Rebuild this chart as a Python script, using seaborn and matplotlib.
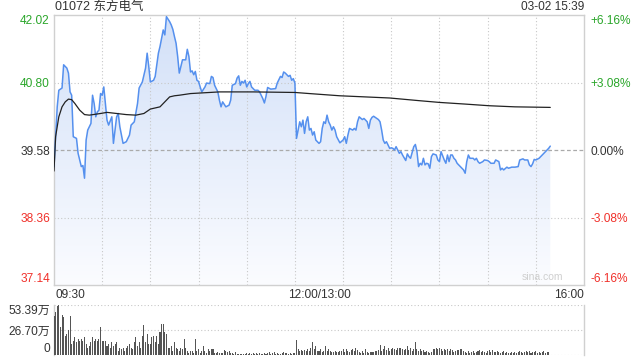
import numpy as np
import pandas as pd
import matplotlib
matplotlib.use("Agg")
import matplotlib.pyplot as plt
from matplotlib.colors import LinearSegmentedColormap
import seaborn as sns

# ---------------- data ----------------
title = "01072 东方电气"
stamp = "03-02 15:39"
prev_close = 39.58
price_ticks = [37.14, 38.36, 39.58, 40.80, 42.02]
price_labels = ["37.14", "38.36", "39.58", "40.80", "42.02"]
pct_labels = ["-6.16%", "-3.08%", "0.00%", "+3.08%", "+6.16%"]
time_labels = ["09:30", "12:00/13:00", "16:00"]
vol_ticks = [0, 26.70, 53.39]
vol_labels = ["0", "26.70万", "53.39万"]

# trading minute index (0 = 09:30, 150 = 12:00/13:00, 330 = 16:00)
price_min = [0, 2, 3, 5, 6, 8, 9, 10, 11, 12, 14, 15, 17, 18, 19, 20, 21, 22, 23, 24,
             25, 26, 27, 28, 29, 30, 31, 32, 33, 34, 36, 37, 39, 40, 41, 43, 45, 47, 48, 50,
             52, 53, 55, 57, 58, 59, 60, 62, 63, 65, 66, 68, 69, 70, 72, 73, 74, 75, 76, 77,
             78, 80, 82, 83, 84, 85, 86, 87, 88, 89, 90, 91, 92, 94, 95, 97, 98, 99, 100, 102,
             103, 104, 105, 107, 109, 110, 111, 113, 114, 115, 116, 117, 118, 119, 120, 121, 122, 123, 125, 127,
             128, 130, 131, 132, 133, 135, 138, 139, 141, 142, 143, 144, 146, 147, 148, 149, 150,
             151, 152, 153, 154, 155, 156, 157, 158, 159, 160, 161, 162, 163, 165, 166, 167, 168, 169, 170,
             171, 172, 173, 174, 175, 176, 178, 180, 181, 182, 183, 184, 186, 187, 188, 189, 190, 192, 193,
             195, 196, 197, 198, 199, 201, 202, 203, 204, 205, 206, 207, 208, 209, 210, 211, 212, 213, 214,
             215, 216, 217, 219, 220, 221, 222, 224, 225, 226, 227, 228, 229, 230, 231, 232, 233, 234, 235,
             236, 238, 239, 240, 241, 243, 244, 245, 246, 247, 248, 249, 250, 251, 253, 254, 255, 256, 257,
             258, 259, 261, 262, 263, 264, 265, 267, 268, 270, 271, 272, 274, 275, 277, 278, 279, 280, 282,
             283, 285, 287, 289, 290, 292, 293, 295, 296, 297, 298, 299, 300, 302, 303, 305, 306, 308, 309]
price_val = [39.28, 40.36, 40.66, 40.70, 41.12, 41.06, 40.97, 40.63, 40.57, 39.82, 39.79, 39.52, 39.28, 39.30, 39.07, 39.76, 39.94, 40.00, 40.06, 40.57,
             40.42, 40.18, 40.27, 40.30, 40.60, 40.57, 40.72, 40.42, 40.12, 40.03, 40.18, 39.70, 40.18, 40.24, 40.00, 39.70, 39.73, 39.85, 40.03, 40.09,
             40.42, 40.70, 40.81, 41.06, 41.33, 41.09, 40.81, 40.84, 40.91, 41.33, 41.45, 41.75, 41.66, 41.99, 41.90, 41.84, 41.76, 41.63, 41.51, 41.27,
             40.97, 41.21, 41.21, 41.40, 41.27, 40.99, 41.01, 40.94, 41.00, 40.84, 40.82, 40.72, 40.63, 40.72, 40.79, 40.78, 40.91, 40.89, 40.75, 40.63,
             40.48, 40.36, 40.45, 40.36, 40.39, 40.48, 40.75, 40.78, 40.88, 40.92, 40.75, 40.82, 40.79, 40.84, 40.72, 40.78, 40.82, 40.72, 40.66, 40.66,
             40.63, 40.51, 40.43, 40.55, 40.71, 40.68, 40.69, 40.79, 40.91, 40.89, 40.99, 40.97, 40.91, 40.93, 40.84, 40.87, 40.79,
             39.79, 39.94, 40.09, 40.00, 40.12, 39.88, 40.09, 40.18, 39.94, 39.97, 39.85, 39.91, 39.76, 39.70, 39.73, 39.97, 40.09, 40.06, 40.21,
             40.09, 40.03, 39.94, 40.00, 39.94, 39.82, 39.71, 39.76, 39.82, 39.70, 39.85, 39.97, 39.94, 39.97, 39.94, 40.09, 40.18, 40.13, 40.15,
             40.09, 39.97, 40.12, 40.17, 40.19, 40.15, 40.13, 40.09, 39.94, 39.76, 39.70, 39.73, 39.67, 39.61, 39.62, 39.61, 39.58, 39.64, 39.58,
             39.52, 39.55, 39.49, 39.39, 39.51, 39.46, 39.43, 39.64, 39.68, 39.55, 39.28, 39.34, 39.31, 39.43, 39.31, 39.34, 39.33, 39.25, 39.46,
             39.51, 39.49, 39.40, 39.37, 39.55, 39.40, 39.34, 39.49, 39.37, 39.49, 39.49, 39.43, 39.40, 39.34, 39.28, 39.25, 39.22, 39.16, 39.37,
             39.49, 39.43, 39.43, 39.40, 39.43, 39.37, 39.34, 39.37, 39.40, 39.39, 39.37, 39.34, 39.34, 39.40, 39.37, 39.22, 39.25, 39.22, 39.27,
             39.25, 39.27, 39.27, 39.28, 39.40, 39.42, 39.40, 39.40, 39.31, 39.28, 39.33, 39.41, 39.40, 39.43, 39.46, 39.52, 39.55, 39.61, 39.65]

avg_min = [0, 1, 3, 5, 7, 9, 11, 13, 16, 19, 22, 29, 33, 39, 45, 51, 56, 60, 66, 69, 72, 75,
           78, 85, 91, 103, 124, 150, 159, 178, 209, 228, 240, 256, 271, 287, 309]
avg_val = [39.20, 39.82, 40.18, 40.36, 40.45, 40.50, 40.49, 40.42, 40.30, 40.22, 40.21, 40.24, 40.26, 40.24,
           40.22, 40.21, 40.24, 40.32, 40.36, 40.45, 40.54, 40.56, 40.57, 40.60, 40.61, 40.63, 40.63, 40.62,
           40.60, 40.56, 40.52, 40.47, 40.44, 40.41, 40.38, 40.36, 40.35]

# volume in 万 shares, one bar per trading minute
vol_am = [41.4, 46.1, 52.3, 53.4, 29.8, 42.5, 40.7, 20.7, 22.5, 26.2,
          41.4, 11.6, 15.3, 18.9, 13.4, 17.1, 15.3, 17.1, 15.3, 18.9,
          11.6, 8.0, 9.8, 13.4, 18.9, 15.3, 17.1, 15.3, 17.1, 29.8,
          15.3, 15.3, 15.3, 9.8, 11.6, 8.0, 13.4, 9.8, 11.6, 13.4,
          4.4, 8.0, 6.2, 8.0, 4.4, 8.0, 9.8, 11.6, 8.0, 6.2,
          13.4, 18.9, 9.8, 13.4, 8.0, 20.7, 31.6, 13.4, 22.5, 11.6,
          11.6, 18.9, 20.7, 13.4, 20.7, 11.6, 24.3, 33.4, 32.7, 24.3,
          22.5, 8.0, 8.0, 9.8, 4.4, 13.4, 8.0, 6.2, 4.4, 8.0,
          6.2, 17.1, 8.0, 4.4, 2.5, 4.4, 4.4, 2.5, 17.1, 4.4,
          6.2, 2.5, 4.4, 9.8, 4.4, 2.5, 6.2, 4.4, 6.2, 6.2,
          2.5, 2.5, 3.3, 2.5, 2.5, 2.5, 5.1, 4.4, 3.6, 4.4,
          2.5, 1.8, 1.5, 3.6, 1.5, 1.5, 1.5, 1.1, 1.5, 1.1,
          1.8, 1.5, 2.2, 1.5, 2.2, 1.5, 2.2, 1.5, 1.8, 1.5,
          1.1, 2.2, 1.5, 2.2, 2.9, 1.5, 2.5, 3.6, 1.5, 2.2,
          1.5, 0.7, 2.5, 3.6, 2.5, 1.8, 1.5, 2.2, 1.1, 1.8, 2.5]
vol_pm = [16.0, 6.2, 4.4, 5.1, 4.4, 5.1, 4.4, 6.2, 4.4, 8.0, 13.4, 6.2, 9.8, 4.4,
          4.4, 6.2, 3.6, 4.4, 9.8, 4.4, 6.2, 4.4, 3.6, 3.6,
          4.4, 3.3, 3.6, 4.4, 4.4, 6.2, 3.6, 6.2, 4.4, 3.6,
          5.1, 6.2, 4.4, 8.0, 5.1, 3.3, 2.5, 4.4, 2.5, 6.2,
          3.6, 2.5, 3.6, 3.3, 3.6, 4.4, 4.4, 5.1, 10.9, 4.4,
          6.2, 9.8, 5.1, 8.0, 4.4, 6.2, 8.0, 6.2, 5.1, 8.0,
          8.0, 8.0, 6.2, 5.1, 6.2, 9.8, 5.1, 8.0, 4.4, 6.2,
          14.2, 6.2, 4.4, 6.2, 4.4, 5.1, 3.6, 4.4, 3.6, 2.5,
          3.6, 6.2, 6.2, 8.0, 6.2, 8.0, 6.2, 4.4, 6.2, 5.1,
          6.2, 4.4, 6.2, 5.1, 3.6, 4.4, 5.1, 5.1, 6.2, 6.2,
          4.4, 3.6, 2.5, 4.4, 2.5, 3.3, 4.4, 2.5, 3.6, 4.4,
          5.1, 3.6, 4.4, 3.3, 2.5, 4.4, 5.1, 3.6, 5.1, 3.6,
          3.3, 4.4, 3.6, 2.5, 3.3, 4.4, 2.5, 3.3, 2.5, 2.5,
          3.3, 2.5, 3.3, 2.5, 3.3, 4.4, 3.6, 2.5, 3.6, 4.4,
          3.3, 4.4, 2.5, 3.3, 3.6, 4.4, 2.5, 3.3, 2.5,
          3.6, 4.4, 2.5, 3.3, 3.6]

# ---------------- style ----------------
sns.set_theme(style="white")
plt.rcParams["font.family"] = ["Liberation Sans", "Noto Sans CJK SC", "DejaVu Sans"]

GREEN = "#2aa62a"
RED = "#f0302a"
DARK = "#333333"
BLUE = "#5590ee"
GRID = "#c8c8c8"
BORDER = "#d0d0d0"
FS = 8.6

fig = plt.figure(figsize=(6.4, 3.6), dpi=100)
ax = fig.add_axes([54 / 640, 1 - 285 / 360, 530 / 640, 270 / 360])
axv = fig.add_axes([54 / 640, 1 - 355 / 360, 530 / 640, 50 / 360])

ymin, ymax = price_ticks[0], price_ticks[-1]
ax.set_xlim(0, 330)
ax.set_ylim(ymin, ymax)

# gradient fill beneath price line
df = pd.DataFrame({"minute": price_min, "price": price_val})
poly = ax.fill_between(df["minute"], df["price"], ymin, facecolor="none", edgecolor="none")
cmap = LinearSegmentedColormap.from_list("g", ["#fbfcff", "#d2e0f8"])
grad = np.linspace(1, 0, 256).reshape(-1, 1)
im = ax.imshow(grad, aspect="auto", cmap=cmap, extent=[0, 330, ymin, ymax],
               origin="upper", zorder=1, vmin=0, vmax=1)
im.set_clip_path(poly.get_paths()[0], transform=ax.transData)

# grid lines
for v in price_ticks[1:-1]:
    if v == prev_close:
        ax.axhline(v, color="#aaaaaa", lw=0.9, ls=(0, (3, 2)), zorder=2)
    else:
        ax.axhline(v, color=GRID, lw=0.8, ls=(0, (1, 2)), zorder=2)
for m in range(30, 330, 30):
    ax.axvline(m, color=GRID, lw=0.8, ls=(0, (1, 2)), zorder=2)

sns.lineplot(data=df, x="minute", y="price", ax=ax, color=BLUE, lw=1.1, zorder=4)
dfa = pd.DataFrame({"minute": avg_min, "avg": avg_val})
sns.lineplot(data=dfa, x="minute", y="avg", ax=ax, color="#222222", lw=0.9, zorder=5)
ax.set_xlim(0, 330)
ax.set_ylim(ymin, ymax)

ax.set_xlabel("")
ax.set_ylabel("")
for s in ax.spines.values():
    s.set_color(BORDER)
    s.set_linewidth(1.0)
    s.set_visible(True)

# left ticks
ax.set_yticks(price_ticks)
ax.set_yticklabels(price_labels)
ax.tick_params(axis="y", length=0, pad=3, labelsize=FS)
ax.tick_params(axis="x", length=0)
ax.set_xticks([])
tick_colors = [RED, RED, DARK, GREEN, GREEN]
for lab, c in zip(ax.get_yticklabels(), tick_colors):
    lab.set_color(c)
labs = ax.get_yticklabels()
labs[0].set_va("bottom")
labs[-1].set_va("top")

# right percent ticks
ax2 = ax.twinx()
ax2.set_ylim(ymin, ymax)
ax2.set_yticks(price_ticks)
ax2.set_yticklabels(pct_labels)
ax2.tick_params(axis="y", length=0, pad=5, labelsize=FS)
for lab, c in zip(ax2.get_yticklabels(), tick_colors):
    lab.set_color(c)
labs2 = ax2.get_yticklabels()
labs2[0].set_va("bottom")
labs2[-1].set_va("top")
for s in ax2.spines.values():
    s.set_visible(False)
ax2.grid(False)

# time labels
ax.text(0.002, -0.015, time_labels[0], transform=ax.transAxes, ha="left", va="top",
        fontsize=FS, color=DARK)
ax.text(0.5, -0.015, time_labels[1], transform=ax.transAxes, ha="center", va="top",
        fontsize=FS, color=DARK)
ax.text(1.0, -0.015, time_labels[2], transform=ax.transAxes, ha="right", va="top",
        fontsize=FS, color=DARK)

ax.text(0.96, 0.012, "sina.com", transform=ax.transAxes, ha="right", va="bottom",
        fontsize=7.5, color="#cfcfcf", zorder=6)

fig.text(55 / 640, 1 - 7 / 360, title, ha="left", va="center", fontsize=9, color=DARK)
fig.text(584 / 640, 1 - 7 / 360, stamp, ha="right", va="center", fontsize=FS, color=DARK)

# volume panel
vm = list(range(len(vol_am))) + list(range(151, 151 + len(vol_pm)))
vv = vol_am + vol_pm
axv.bar(vm, vv, width=0.65, color="#555555", linewidth=0, zorder=3)
axv.set_xlim(0, 330)
axv.set_ylim(0, vol_ticks[-1])
for v in vol_ticks[1:]:
    axv.axhline(v, color=GRID, lw=0.8, ls=(0, (1, 2)), zorder=1)
axv.axhline(0, color=GRID, lw=0.8, ls=(0, (1, 2)), zorder=1)
axv.set_xticks([])
axv.set_yticks(vol_ticks)
axv.set_yticklabels(vol_labels)
axv.tick_params(axis="y", length=0, pad=3, labelsize=FS, colors=DARK)
vl = axv.get_yticklabels()
vl[0].set_va("bottom")
vl[-1].set_va("top")
for k, s in axv.spines.items():
    s.set_color(BORDER)
    s.set_linewidth(1.0)
axv.spines["top"].set_visible(False)
axv.spines["bottom"].set_visible(False)

fig.savefig("out.png", dpi=100)
